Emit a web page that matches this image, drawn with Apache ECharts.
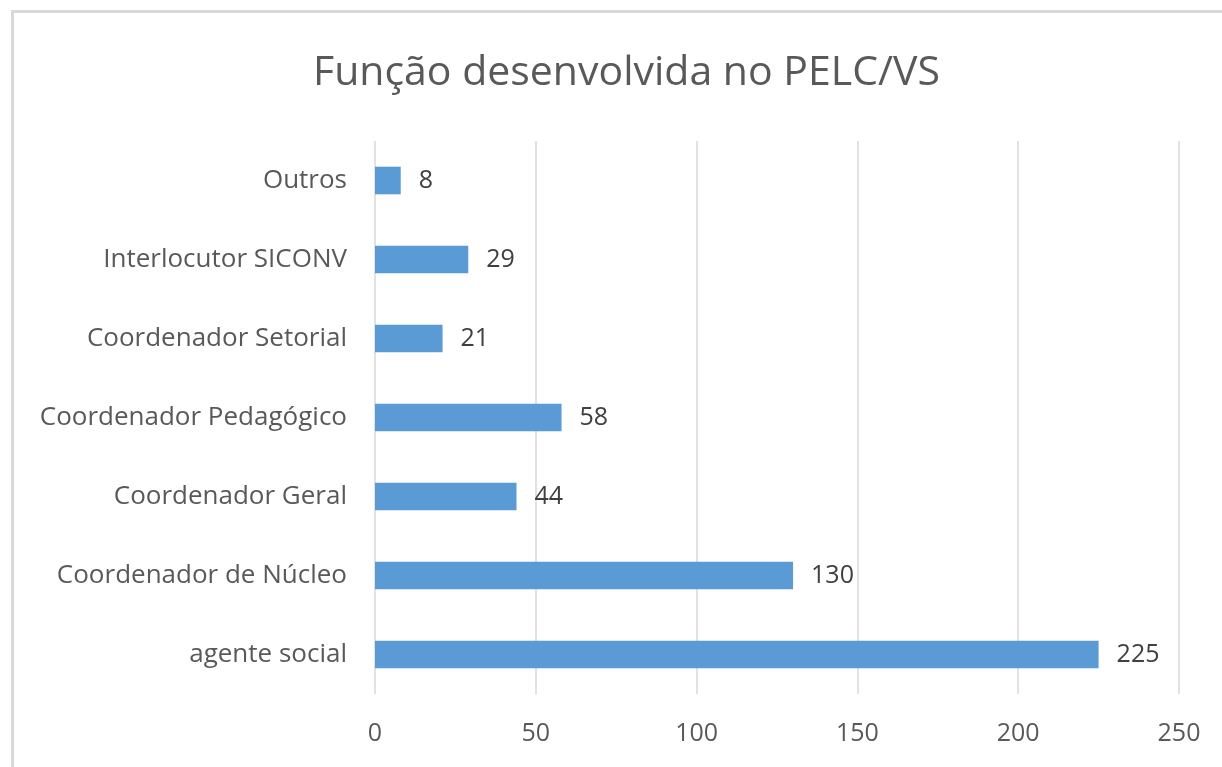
<!DOCTYPE html>
<html><head><meta charset="utf-8">
<script src="https://cdn.jsdelivr.net/npm/echarts@6/dist/echarts.min.js"></script>
<style>html,body{margin:0;padding:0;background:#fff}#c{width:1222px;height:767px}</style>
</head><body><div id="c"></div>
<script>
const categories = ["agente social","Coordenador de Núcleo","Coordenador Geral","Coordenador Pedagógico","Coordenador Setorial","Interlocutor SICONV","Outros"];
const values = [225,130,44,58,21,29,8];
const titleText = "Função desenvolvida no PELC/VS";
const chart = echarts.init(document.getElementById('c'), null, {renderer:'canvas'});
const font = "'Open Sans', sans-serif";
chart.setOption({
  animation:false,
  backgroundColor:'#fff',
  title:{text:titleText,left:308,top:48,textStyle:{fontFamily:font,fontSize:41,fontWeight:'normal',color:'#595959'}},
  graphic:[{type:'polyline',shape:{points:[[12.5,800],[12.5,11.5],[1300,11.5]]},style:{stroke:'#d9d9d9',lineWidth:3,fill:null},silent:true}],
  grid:{left:375,right:43,top:141,bottom:73,containLabel:false},
  xAxis:{type:'value',min:0,max:250,interval:50,
    axisLine:{show:false},axisTick:{show:false},
    axisLabel:{fontFamily:font,fontSize:25,color:'#595959',margin:27},
    splitLine:{lineStyle:{color:'#d9d9d9',width:1.5}}},
  yAxis:{type:'category',data:categories,
    axisLine:{show:false},axisTick:{show:false},
    axisLabel:{fontFamily:font,fontSize:26,color:'#595959',margin:28}},
  series:[{type:'bar',data:values,barWidth:'35%',itemStyle:{color:'#5b9bd5'},
    label:{show:true,position:'right',distance:18,fontFamily:font,fontSize:25,color:'#404040'}}]
});
</script></body></html>
